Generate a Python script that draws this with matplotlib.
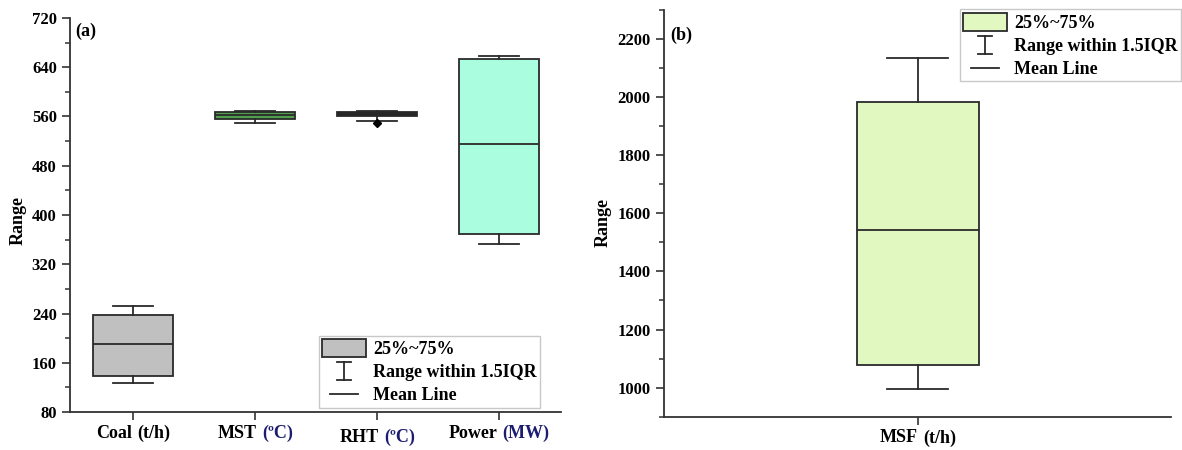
import matplotlib
matplotlib.use('Agg')
import matplotlib.pyplot as plt
from matplotlib.patches import Patch
from matplotlib.lines import Line2D
from matplotlib.legend_handler import HandlerBase
from matplotlib.offsetbox import TextArea, HPacker, AnnotationBbox
from matplotlib.ticker import MultipleLocator

plt.rcParams['font.family'] = ['Liberation Serif', 'DejaVu Serif']
plt.rcParams['font.weight'] = 'bold'

# panel (a) data
cats_a = ['Coal', 'MST', 'RHT', 'Power']
units_a = ['(t/h)', '(ºC)', '(ºC)', '(MW)']
unit_colors_a = ['black', '#1c1c70', '#1c1c70', '#1c1c70']
whislo_a = [127, 550, 553, 353]
q1_a = [138, 556, 560.5, 369]
med_a = [190, 562, 564, 516]
q3_a = [238, 567, 566.5, 653]
whishi_a = [252, 569, 569, 659]
fliers_a = [[], [], [550], []]
fills_a = ['#c0c0c0', '#4f9f4f', '#111111', '#abfde0']

# panel (b) data
cats_b = ['MSF']
units_b = ['(t/h)']
whislo_b = [997]
q1_b = [1078]
med_b = [1543]
q3_b = [1983]
whishi_b = [2135]
fills_b = ['#e1f9c0']

edge = '#2a2a2a'


class HandlerRange(HandlerBase):
    # little I-beam for the whisker entry
    def create_artists(self, legend, orig_handle, xdescent, ydescent,
                       width, height, fontsize, trans):
        cx = width / 2 - xdescent
        lo = -ydescent
        hi = -ydescent + height
        cw = width * 0.16
        arts = [Line2D([cx, cx], [lo, hi]),
                Line2D([cx - cw, cx + cw], [lo, lo]),
                Line2D([cx - cw, cx + cw], [hi, hi])]
        for a in arts:
            a.set_color(edge)
            a.set_linewidth(1.3)
            a.set_transform(trans)
        return arts


class HandlerShortLine(HandlerBase):
    def create_artists(self, legend, orig_handle, xdescent, ydescent,
                       width, height, fontsize, trans):
        y = -ydescent + height / 2
        ln = Line2D([-xdescent + 0.18 * width, -xdescent + 0.82 * width], [y, y],
                    color=edge, linewidth=1.3)
        ln.set_transform(trans)
        return [ln]


def make_stats(whislo, q1, med, q3, whishi, fliers=None):
    stats = []
    for i in range(len(med)):
        stats.append(dict(whislo=whislo[i], q1=q1[i], med=med[i], q3=q3[i],
                          whishi=whishi[i],
                          fliers=fliers[i] if fliers else []))
    return stats


def draw_boxes(ax, stats, positions, width, fills):
    bp = ax.bxp(stats, positions=positions, widths=width, patch_artist=True,
                showfliers=True, manage_ticks=False,
                boxprops=dict(edgecolor=edge, linewidth=1.3),
                medianprops=dict(color=edge, linewidth=1.3),
                whiskerprops=dict(color=edge, linewidth=1.3),
                capprops=dict(color=edge, linewidth=1.3),
                flierprops=dict(marker='D', markersize=4, markerfacecolor='black',
                                markeredgecolor='black'),
                capwidths=width / 2)
    for patch, c in zip(bp['boxes'], fills):
        patch.set_facecolor(c)
    return bp


def style_axis(ax):
    for s in ['top', 'right']:
        ax.spines[s].set_visible(False)
    for s in ['left', 'bottom']:
        ax.spines[s].set_linewidth(1.3)
        ax.spines[s].set_color('#333333')
    ax.tick_params(axis='both', which='major', direction='out', length=6,
                   width=1.2, labelsize=12, colors='#333333', labelcolor='black')
    ax.tick_params(axis='y', which='minor', direction='out', length=3.5, width=1.1,
                   colors='#333333')


def cat_label(ax, x, name, unit, ucolor, dy=-9):
    props = dict(fontsize=13, fontweight='bold', family='Liberation Serif')
    t1 = TextArea(name, textprops=dict(color='black', **props))
    t2 = TextArea(unit, textprops=dict(color=ucolor, **props))
    box = HPacker(children=[t1, t2], align='baseline', pad=0, sep=4)
    ab = AnnotationBbox(box, (x, 0), xycoords=ax.get_xaxis_transform(),
                        xybox=(0, dy), boxcoords='offset points',
                        box_alignment=(0.5, 1), frameon=False, pad=0)
    ax.add_artist(ab)


def add_legend(fig, ax, fill, loc, anchor):
    handles = [Patch(facecolor=fill, edgecolor=edge, linewidth=1.3),
               Line2D([], []),
               Line2D([], [], color=edge, linewidth=1.3)]
    labels = ['25%~75%', 'Range within 1.5IQR', 'Mean Line']
    leg = ax.legend(handles, labels, loc=loc, bbox_to_anchor=anchor,
                    bbox_transform=fig.transFigure, fancybox=False,
                    edgecolor='#c8c8c8', framealpha=1, fontsize=13,
                    handlelength=2.4, handleheight=1.15, labelspacing=0.22,
                    borderpad=0.2, handletextpad=0.4, borderaxespad=0,
                    handler_map={handles[1]: HandlerRange(),
                                 handles[2]: HandlerShortLine()})
    leg.get_frame().set_linewidth(1.0)
    return leg


fig = plt.figure(figsize=(11.82, 4.5), dpi=100)
ax1 = fig.add_axes([70 / 1182, 1 - 412 / 450, 491 / 1182, 394 / 450])
ax2 = fig.add_axes([664 / 1182, 1 - 416.7 / 450, 507 / 1182, 406.7 / 450])

# panel (a)
pos_a = [1, 2, 3, 4]
draw_boxes(ax1, make_stats(whislo_a, q1_a, med_a, q3_a, whishi_a, fliers_a),
           pos_a, 0.65, fills_a)
ax1.set_xlim(0.484, 4.508)
ax1.set_ylim(80, 720)
ax1.yaxis.set_major_locator(MultipleLocator(80))
ax1.yaxis.set_minor_locator(MultipleLocator(40))
ax1.set_xticks(pos_a)
ax1.set_xticklabels([''] * len(pos_a))
style_axis(ax1)
label_dy = [-9, -9, -12, -9]
for p, n, u, c, d in zip(pos_a, cats_a, units_a, unit_colors_a, label_dy):
    cat_label(ax1, p, n, u, c, d)
ax1.text(0.01, 0.967, '(a)', transform=ax1.transAxes, fontsize=13,
         fontweight='bold', ha='left', va='center')
add_legend(fig, ax1, fills_a[0], 'lower right', (540 / 1182, 1 - 408 / 450))

# panel (b)
pos_b = [1]
draw_boxes(ax2, make_stats(whislo_b, q1_b, med_b, q3_b, whishi_b),
           pos_b, 0.5, fills_b)
ax2.set_xlim(-0.041, 2.037)
ax2.set_ylim(900, 2300)
ax2.yaxis.set_major_locator(MultipleLocator(200))
ax2.yaxis.set_minor_locator(MultipleLocator(100))
ax2.set_xticks(pos_b)
ax2.set_xticklabels([''])
style_axis(ax2)
cat_label(ax2, pos_b[0], cats_b[0], units_b[0], 'black')
ax2.text(0.012, 0.938, '(b)', transform=ax2.transAxes, fontsize=13,
         fontweight='bold', ha='left', va='center')
add_legend(fig, ax2, fills_b[0], 'upper right', (1181 / 1182, 1 - 9 / 450))

fig.text(18 / 1182, 1 - 220 / 450, 'Range', rotation=90, fontsize=13,
         fontweight='bold', ha='center', va='center')
fig.text(603 / 1182, 1 - 222 / 450, 'Range', rotation=90, fontsize=13,
         fontweight='bold', ha='center', va='center')

fig.savefig('out.png', dpi=100)
